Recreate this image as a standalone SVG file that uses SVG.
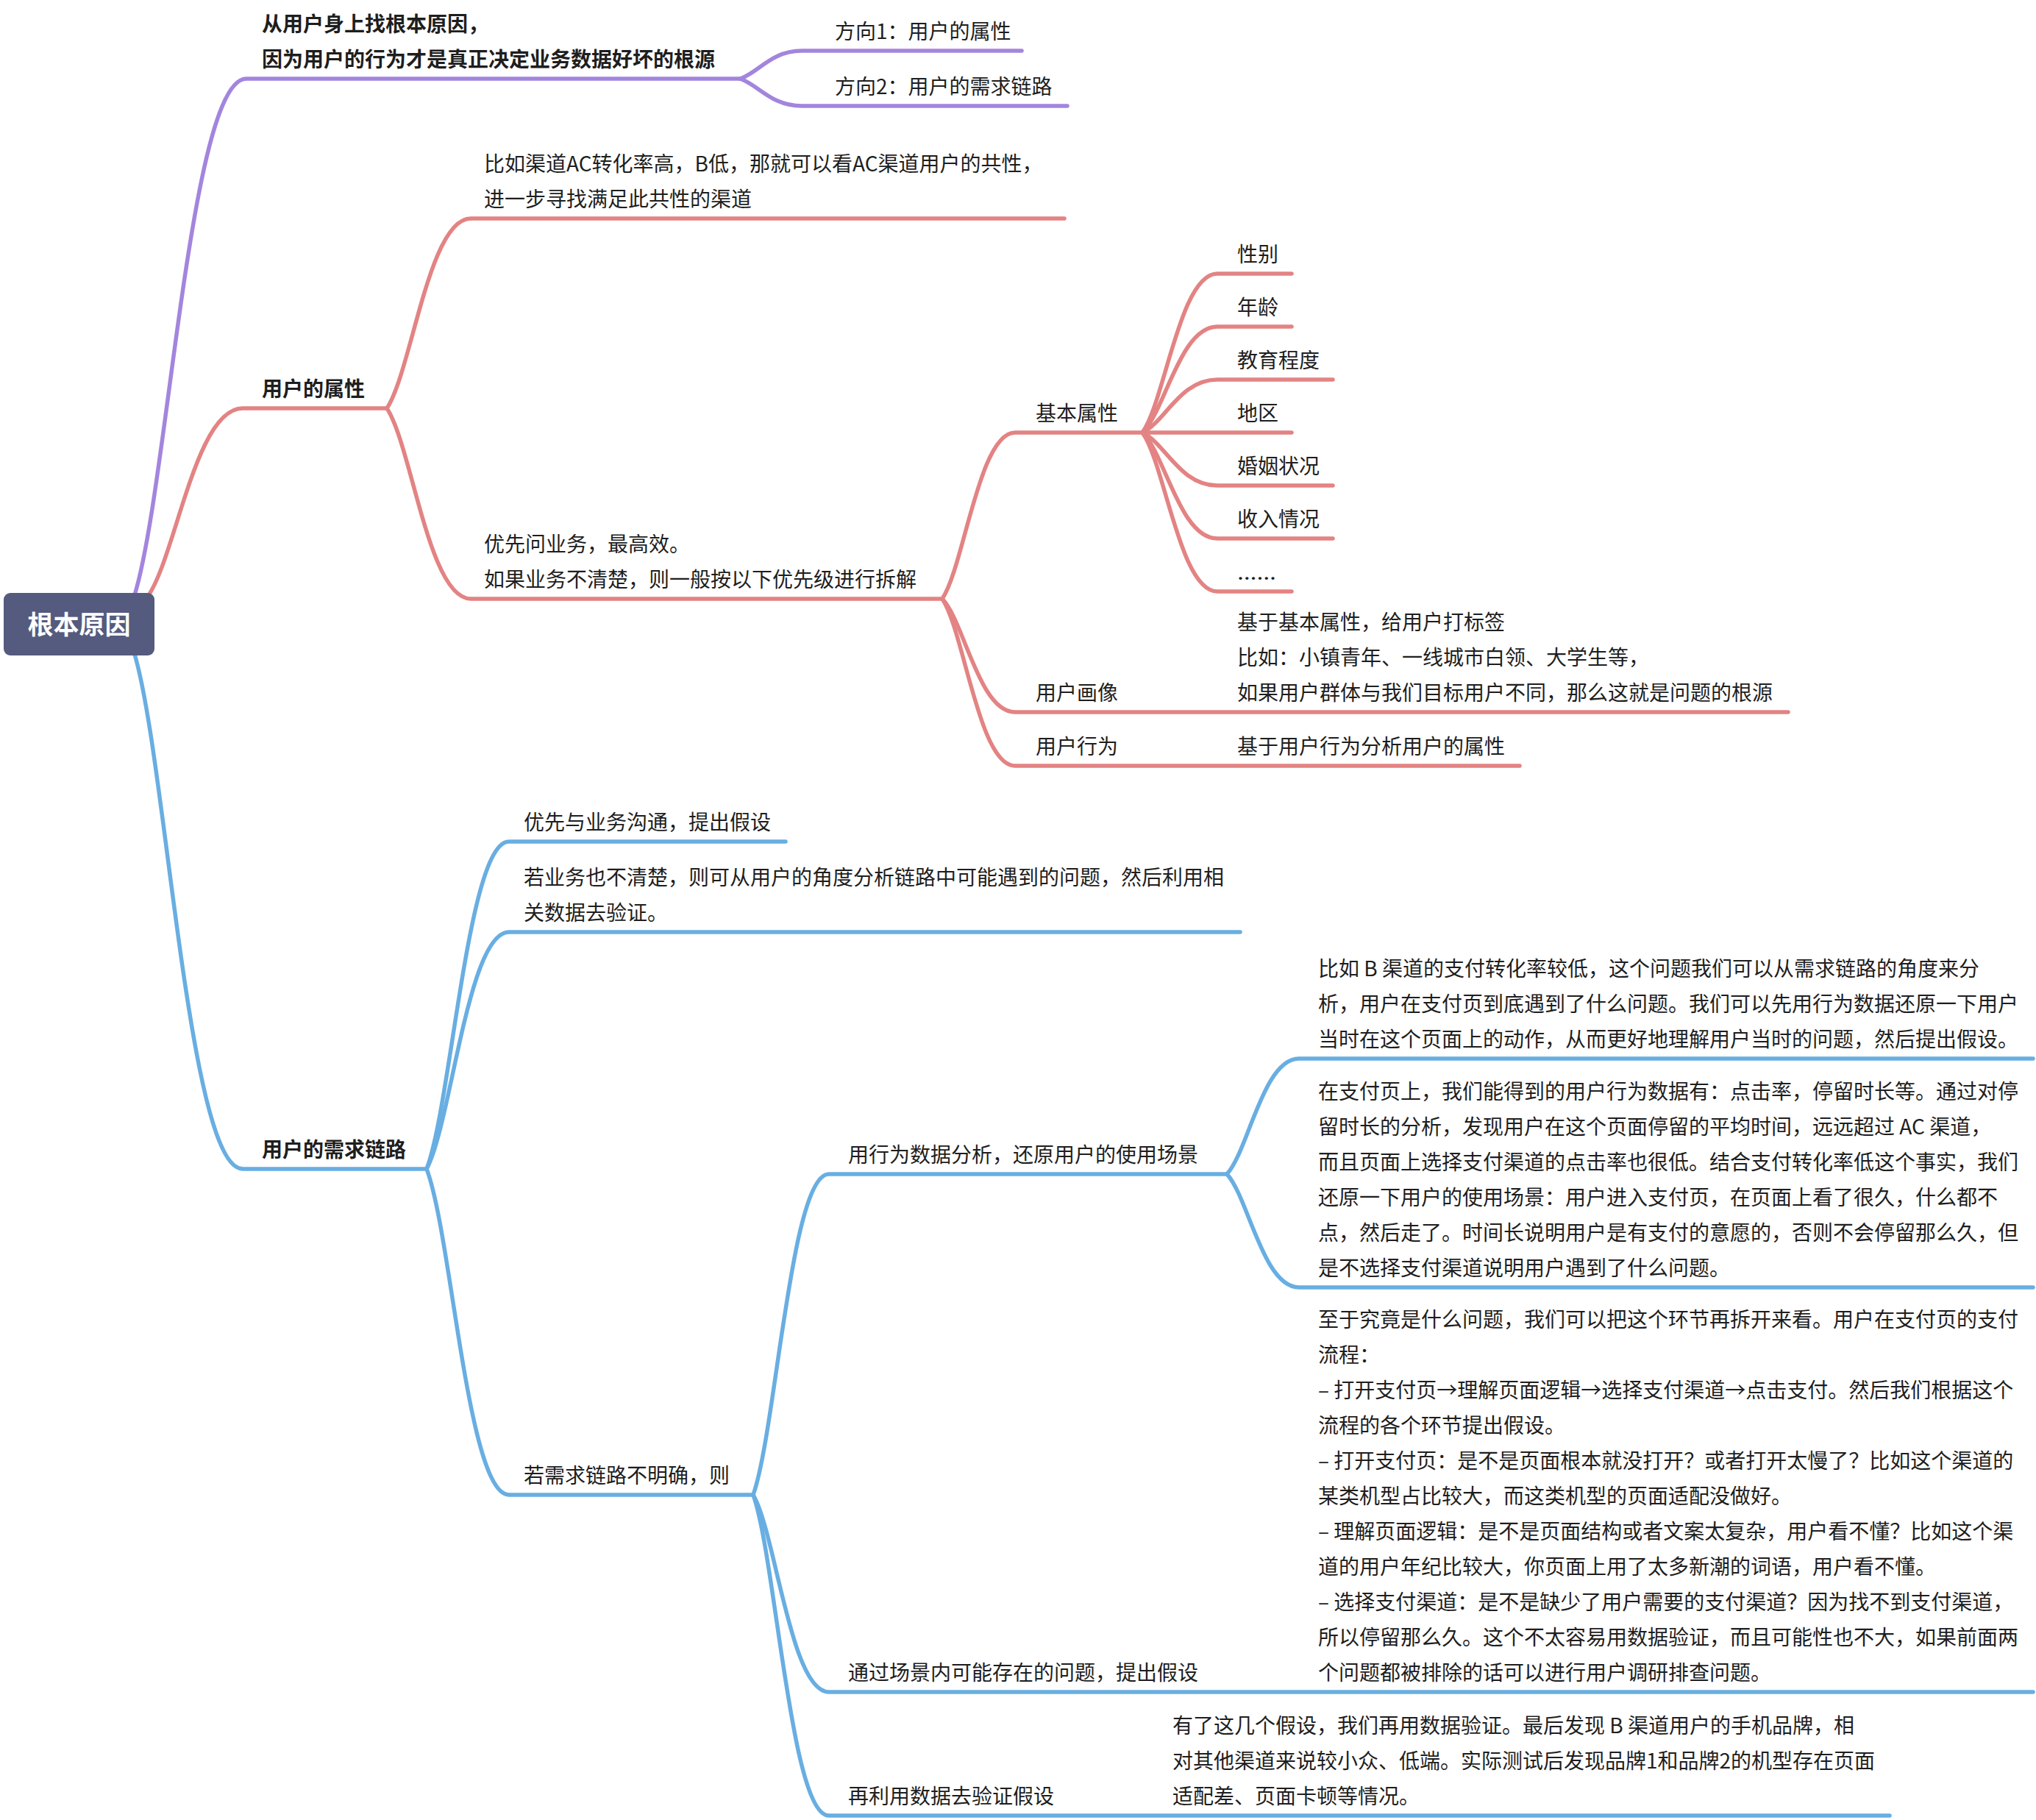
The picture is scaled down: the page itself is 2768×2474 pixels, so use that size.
<svg xmlns="http://www.w3.org/2000/svg" width="2768" height="2474" viewBox="0 0 2768 2474">
<style>
.t{font-family:"Noto Sans CJK SC","Noto Sans",sans-serif;font-size:28px;fill:#1e1e1e}
.b{font-weight:bold}
.dots{font-family:"Noto Sans","DejaVu Sans",sans-serif;font-size:28px;fill:#1e1e1e}
.rt{font-family:"Noto Sans CJK SC","Noto Sans",sans-serif;font-size:35px;font-weight:bold;fill:#fff}
.c{fill:none;stroke-width:5.5;stroke-linecap:round;stroke-linejoin:round}
.p{stroke:#A385DE}
.r{stroke:#E38383}
.bl{stroke:#68AEE2}
</style>
<rect width="2768" height="2474" fill="#fff"/>
<g id="connectors">
<path class="c p" d="M182 812 C228 669 258 107 335 107 H1006"/>
<path class="c r" d="M200 812 C239 759 265 555 330 555 H526"/>
<path class="c bl" d="M182 886 C226 1028 256 1589 330 1589 H580"/>
<path class="c p" d="M1006 107 C1031 99 1048 69 1090 69 H1389"/>
<path class="c p" d="M1006 107 C1031 115 1048 144 1090 144 H1451"/>
<path class="c r" d="M526 555 C560 503 583 297 640 297 H1447"/>
<path class="c r" d="M526 555 C560 607 583 814 640 814 H1281"/>
<path class="c r" d="M1281 814 C1311 769 1331 588 1380 588 H1553"/>
<path class="c r" d="M1281 814 C1311 845 1331 968 1380 968 H2431"/>
<path class="c r" d="M1281 814 C1311 859 1331 1041 1380 1041 H2066"/>
<path class="c r" d="M1553 588 C1584 545 1604 372 1655 372 H1756"/>
<path class="c r" d="M1553 588 C1584 559 1604 444 1655 444 H1756"/>
<path class="c r" d="M1553 588 C1584 574 1604 516 1655 516 H1812"/>
<path class="c r" d="M1553 588 H1756"/>
<path class="c r" d="M1553 588 C1584 602 1604 660 1655 660 H1812"/>
<path class="c r" d="M1553 588 C1584 617 1604 732 1655 732 H1812"/>
<path class="c r" d="M1553 588 C1584 631 1604 804 1655 804 H1756"/>
<path class="c bl" d="M580 1589 C614 1500 636 1144 692 1144 H1068"/>
<path class="c bl" d="M580 1589 C614 1525 636 1267 692 1267 H1686"/>
<path class="c bl" d="M580 1589 C614 1678 636 2032 692 2032 H1024"/>
<path class="c bl" d="M1024 2032 C1055 1945 1075 1596 1127 1596 H1668"/>
<path class="c bl" d="M1024 2032 C1055 2086 1075 2300 1127 2300 H2764"/>
<path class="c bl" d="M1024 2032 C1055 2119 1075 2468 1127 2468 H2569"/>
<path class="c bl" d="M1668 1596 C1697 1565 1717 1439 1766 1439 H2764"/>
<path class="c bl" d="M1668 1596 C1697 1627 1717 1750 1766 1750 H2764"/>
</g>
<g id="root">
<rect x="5" y="806" width="205" height="85" rx="9" fill="#545B7E"/>
<text class="rt" x="107.5" y="862" text-anchor="middle">根本原因</text>
</g>
<g id="n-cause">
<text class="t b" x="356" y="43">从用户身上找根本原因，</text>
<text class="t b" x="356" y="91">因为用户的行为才是真正决定业务数据好坏的根源</text>
</g>
<g id="n-dir1"><text class="t" x="1135" y="53">方向1：用户的属性</text></g>
<g id="n-dir2"><text class="t" x="1135" y="128">方向2：用户的需求链路</text></g>
<g id="n-attr"><text class="t b" x="356" y="539">用户的属性</text></g>
<g id="n-ac">
<text class="t" x="658" y="233">比如渠道AC转化率高，B低，那就可以看AC渠道用户的共性，</text>
<text class="t" x="658" y="281">进一步寻找满足此共性的渠道</text>
</g>
<g id="n-ask">
<text class="t" x="658" y="750">优先问业务，最高效。</text>
<text class="t" x="658" y="798">如果业务不清楚，则一般按以下优先级进行拆解</text>
</g>
<g id="n-basic"><text class="t" x="1408" y="572">基本属性</text></g>
<g id="n-gender"><text class="t" x="1682" y="356">性别</text></g>
<g id="n-age"><text class="t" x="1682" y="428">年龄</text></g>
<g id="n-edu"><text class="t" x="1682" y="500">教育程度</text></g>
<g id="n-region"><text class="t" x="1682" y="572">地区</text></g>
<g id="n-marriage"><text class="t" x="1682" y="644">婚姻状况</text></g>
<g id="n-income"><text class="t" x="1682" y="716">收入情况</text></g>
<g id="n-more"><text class="dots" x="1682" y="788" textLength="53" lengthAdjust="spacingAndGlyphs">……</text></g>
<g id="n-portrait"><text class="t" x="1408" y="952">用户画像</text></g>
<g id="n-portrait-desc">
<text class="t" x="1682" y="856">基于基本属性，给用户打标签</text>
<text class="t" x="1682" y="904">比如：小镇青年、一线城市白领、大学生等，</text>
<text class="t" x="1682" y="952">如果用户群体与我们目标用户不同，那么这就是问题的根源</text>
</g>
<g id="n-behavior"><text class="t" x="1408" y="1025">用户行为</text></g>
<g id="n-behavior-desc"><text class="t" x="1682" y="1025">基于用户行为分析用户的属性</text></g>
<g id="n-chain"><text class="t b" x="356" y="1573">用户的需求链路</text></g>
<g id="n-talk"><text class="t" x="712" y="1128">优先与业务沟通，提出假设</text></g>
<g id="n-unclear">
<text class="t" x="712" y="1203">若业务也不清楚，则可从用户的角度分析链路中可能遇到的问题，然后利用相</text>
<text class="t" x="712" y="1251">关数据去验证。</text>
</g>
<g id="n-if"><text class="t" x="712" y="2016">若需求链路不明确，则</text></g>
<g id="n-scene"><text class="t" x="1153" y="1580">用行为数据分析，还原用户的使用场景</text></g>
<g id="n-scene-ex">
<text class="t" x="1792" y="1327">比如 B 渠道的支付转化率较低，这个问题我们可以从需求链路的角度来分</text>
<text class="t" x="1792" y="1375">析，用户在支付页到底遇到了什么问题。我们可以先用行为数据还原一下用户</text>
<text class="t" x="1792" y="1423">当时在这个页面上的动作，从而更好地理解用户当时的问题，然后提出假设。</text>
</g>
<g id="n-scene-data">
<text class="t" x="1792" y="1494">在支付页上，我们能得到的用户行为数据有：点击率，停留时长等。通过对停</text>
<text class="t" x="1792" y="1542">留时长的分析，发现用户在这个页面停留的平均时间，远远超过 AC 渠道，</text>
<text class="t" x="1792" y="1590">而且页面上选择支付渠道的点击率也很低。结合支付转化率低这个事实，我们</text>
<text class="t" x="1792" y="1638">还原一下用户的使用场景：用户进入支付页，在页面上看了很久，什么都不</text>
<text class="t" x="1792" y="1686">点，然后走了。时间长说明用户是有支付的意愿的，否则不会停留那么久，但</text>
<text class="t" x="1792" y="1734">是不选择支付渠道说明用户遇到了什么问题。</text>
</g>
<g id="n-hypo"><text class="t" x="1153" y="2284">通过场景内可能存在的问题，提出假设</text></g>
<g id="n-hypo-desc">
<text class="t" x="1792" y="1804">至于究竟是什么问题，我们可以把这个环节再拆开来看。用户在支付页的支付</text>
<text class="t" x="1792" y="1852">流程：</text>
<text class="t" x="1792" y="1900">– 打开支付页→理解页面逻辑→选择支付渠道→点击支付。然后我们根据这个</text>
<text class="t" x="1792" y="1948">流程的各个环节提出假设。</text>
<text class="t" x="1792" y="1996">– 打开支付页：是不是页面根本就没打开？或者打开太慢了？比如这个渠道的</text>
<text class="t" x="1792" y="2044">某类机型占比较大，而这类机型的页面适配没做好。</text>
<text class="t" x="1792" y="2092">– 理解页面逻辑：是不是页面结构或者文案太复杂，用户看不懂？比如这个渠</text>
<text class="t" x="1792" y="2140">道的用户年纪比较大，你页面上用了太多新潮的词语，用户看不懂。</text>
<text class="t" x="1792" y="2188">– 选择支付渠道：是不是缺少了用户需要的支付渠道？因为找不到支付渠道，</text>
<text class="t" x="1792" y="2236">所以停留那么久。这个不太容易用数据验证，而且可能性也不大，如果前面两</text>
<text class="t" x="1792" y="2284">个问题都被排除的话可以进行用户调研排查问题。</text>
</g>
<g id="n-verify"><text class="t" x="1153" y="2452">再利用数据去验证假设</text></g>
<g id="n-verify-desc">
<text class="t" x="1594" y="2356">有了这几个假设，我们再用数据验证。最后发现 B 渠道用户的手机品牌，相</text>
<text class="t" x="1594" y="2404">对其他渠道来说较小众、低端。实际测试后发现品牌1和品牌2的机型存在页面</text>
<text class="t" x="1594" y="2452">适配差、页面卡顿等情况。</text>
</g>
</svg>
